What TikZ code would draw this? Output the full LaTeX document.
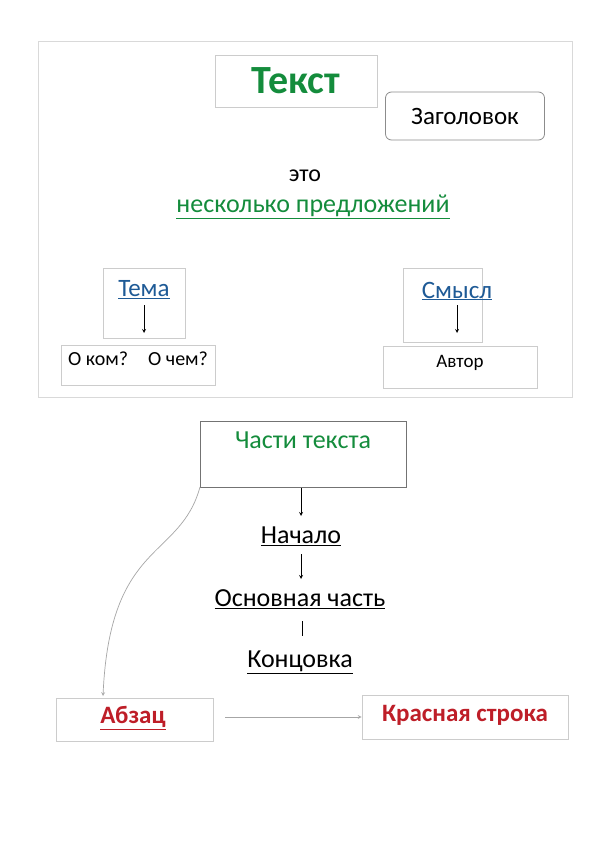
\documentclass[tikz,border=0pt]{standalone}
\usepackage{fontspec}
\setmainfont{Carlito}
\usetikzlibrary{positioning}
\definecolor{grn}{RGB}{20,140,60}
\definecolor{blu}{RGB}{30,90,150}
\definecolor{rd}{RGB}{190,30,40}
\tikzstyle{box}=[draw=black!20,line width=0.8pt,inner sep=0pt]
\tikzstyle{word}=[inner sep=1pt,font=\fontsize{26}{28}\selectfont]
\tikzstyle{conn}=[-stealth,line width=0.8pt]
\newcommand{\ul}[1]{\underline{#1}}
\begin{document}
\begin{tikzpicture}[x=1pt,y=-1pt]
  \useasboundingbox[fill=white] (0,0) rectangle (600,850);
  \draw[black!15,line width=1pt] (38,42) rectangle (572,397);
  % top block
  \node[box,minimum width=162pt,minimum height=52pt] (text) at (296,81) {};
  \node[text=grn,font=\fontsize{40}{42}\selectfont\bfseries] at (296,81) {Текст};
  \node[box,draw=black!45,rounded corners=6pt,minimum width=159pt,minimum height=48pt,font=\fontsize{25}{27}\selectfont] (title) at (465,116) {Заголовок};
  \node[word,font=\fontsize{24}{26}\selectfont] (eto) at (305,176) {это};
  \node[word,text=grn] (sent) at (313,207) {\ul{несколько предложений}};
  % Тема / Смысл
  \node[box,minimum width=82pt,minimum height=70pt] (temabox) at (144,303) {};
  \node[word,text=blu,font=\fontsize{25}{27}\selectfont] (tema) at (144,290) {\ul{Тема}};
  \node[box,minimum width=154pt,minimum height=40pt] (okom) at (138,365) {};
  \node[font=\fontsize{20}{22}\selectfont] at (138,359) {О ком?\quad О чем?};
  \node[box,minimum width=79pt,minimum height=74pt] (smbox) at (443,305) {};
  \node[word,text=blu,font=\fontsize{25}{27}\selectfont] (smysl) at (457,291) {\ul{Смысл}};
  \node[box,minimum width=154pt,minimum height=42pt] (avtor) at (460,367) {};
  \node[font=\fontsize{19}{21}\selectfont] at (460,363) {Автор};
  \coordinate (t1) at (144,305); \coordinate (t2) at (144,333);
  \coordinate (s1) at (457,305); \coordinate (s2) at (457,333);
  \draw[conn] (t1) -- (t2);
  \draw[conn] (s1) -- (s2);
  % parts
  \node[box,draw=black!55,minimum width=206pt,minimum height=66pt] (parts) at (303,454) {};
  \node[word,text=grn] at (303,440) {Части текста};
  \node[word] (nach) at (301,536) {\ul{Начало}};
  \node[word] (osn) at (300,599) {\ul{Основная часть}};
  \node[word] (konc) at (300,662) {\ul{Концовка}};
  \coordinate (p1) at (301,488); \coordinate (p2) at (301,516);
  \coordinate (n1) at (301,554); \coordinate (n2) at (301,579);
  \draw[conn] (p1) -- (p2);
  \draw[conn] (n1) -- (n2);
  \coordinate (o1) at (302,621); \coordinate (o2) at (302,636);
  \draw[line width=0.8pt] (o1) -- (o2);
  % bottom
  \node[box,minimum width=157pt,minimum height=43pt] (abz) at (135,720) {};
  \node[word,text=rd,font=\fontsize{25}{27}\selectfont\bfseries] at (133,718) {\ul{Абзац}};
  \node[box,minimum width=206pt,minimum height=44pt] (kras) at (465,717) {};
  \node[word,text=rd,font=\fontsize{25}{27}\selectfont\bfseries] at (465,715) {Красная строка};
  \coordinate (a0) at (200,487); \coordinate (a1) at (103,696);
  \draw[-stealth,black!35,line width=0.7pt] (a0) .. controls (180,560) and (110,540) .. (a1);
  \coordinate (h0) at (225,717);
  \draw[-stealth,black!35,line width=0.7pt] (h0) -- (kras.west);
\end{tikzpicture}
\end{document}
